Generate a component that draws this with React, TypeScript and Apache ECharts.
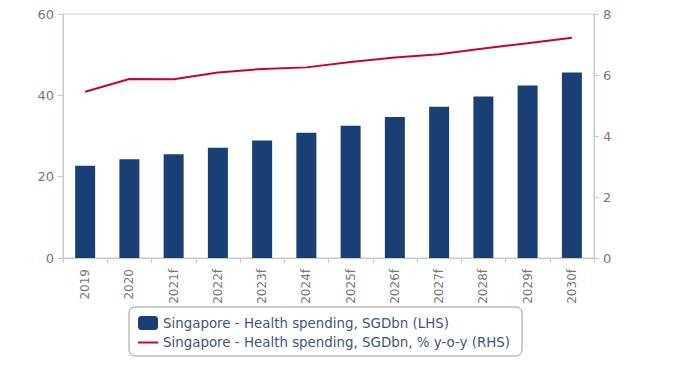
import React, { useEffect, useRef } from "react";
import * as echarts from "echarts";

const categories = ["2019", "2020", "2021f", "2022f", "2023f", "2024f", "2025f", "2026f", "2027f", "2028f", "2029f", "2030f"];
const spending = [22.7, 24.3, 25.5, 27.1, 28.9, 30.8, 32.5, 34.7, 37.2, 39.7, 42.4, 45.6];
const growth = [5.45, 5.87, 5.86, 6.08, 6.2, 6.25, 6.43, 6.57, 6.68, 6.87, 7.04, 7.22];
const barName = "Singapore - Health spending, SGDbn (LHS)";
const lineName = "Singapore - Health spending, SGDbn, % y-o-y (RHS)";

const FONT = "DejaVu Sans";
const AXIS_COLOR = "#c6cad3";
const LABEL_COLOR = "#777777";

export default function App() {
  const ref = useRef<HTMLDivElement>(null);
  useEffect(() => {
    if (!ref.current) return;
    const chart = echarts.init(ref.current, undefined, { renderer: "svg" });
    chart.setOption({
      animation: false,
      textStyle: { fontFamily: FONT },
      grid: {
        left: 63,
        right: 79,
        top: 14,
        bottom: 121,
        show: true,
        borderColor: AXIS_COLOR,
        borderWidth: 1,
        containLabel: false,
      },
      legend: {
        orient: "vertical",
        left: 129,
        top: 307,
        borderColor: "#999999",
        borderWidth: 1,
        borderRadius: 6,
        padding: [9, 12, 7, 9],
        itemWidth: 20,
        itemHeight: 14,
        itemGap: 6,
        textStyle: { fontFamily: FONT, fontSize: 13.4, color: "#3a5680" },
        data: [
          { name: barName },
          { name: lineName, icon: "path://M0 0H20V2H0Z" },
        ],
      },
      xAxis: {
        type: "category",
        data: categories,
        boundaryGap: true,
        axisLine: { show: true, lineStyle: { color: AXIS_COLOR } },
        axisTick: { show: true, length: 5, lineStyle: { color: AXIS_COLOR } },
        axisLabel: { rotate: 90, color: LABEL_COLOR, fontSize: 12, margin: 11, fontFamily: FONT },
        splitLine: { show: false },
      },
      yAxis: [
        {
          type: "value",
          min: 0,
          max: 60,
          interval: 20,
          axisLine: { show: true, lineStyle: { color: AXIS_COLOR } },
          axisTick: { show: true, length: 5, lineStyle: { color: AXIS_COLOR } },
          axisLabel: { color: LABEL_COLOR, fontSize: 13, margin: 9, fontFamily: FONT },
          splitLine: { show: false },
        },
        {
          type: "value",
          min: 0,
          max: 8,
          interval: 2,
          position: "right",
          axisLine: { show: true, lineStyle: { color: AXIS_COLOR } },
          axisTick: { show: true, length: 5, lineStyle: { color: AXIS_COLOR } },
          axisLabel: { color: LABEL_COLOR, fontSize: 13, margin: 9, fontFamily: FONT },
          splitLine: { show: false },
        },
      ],
      series: [
        {
          name: barName,
          type: "bar",
          data: spending,
          barWidth: 20,
          yAxisIndex: 0,
          itemStyle: { color: "#1a3f74" },
        },
        {
          name: lineName,
          type: "line",
          data: growth,
          yAxisIndex: 1,
          symbol: "none",
          lineStyle: { color: "#c8003c", width: 2 },
          itemStyle: { color: "#c8003c" },
        },
      ],
    });
    return () => chart.dispose();
  }, []);
  return <div ref={ref} style={{ width: 673, height: 379, position: "absolute", left: 0, top: 0 }} />;
}
